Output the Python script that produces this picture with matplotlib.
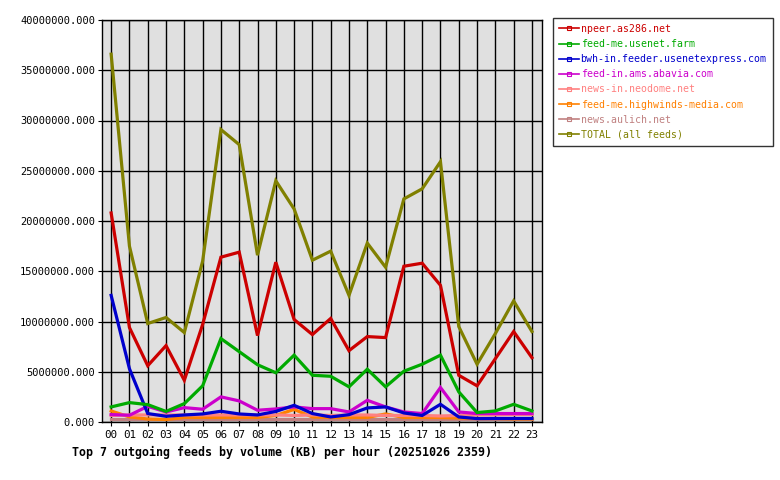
import matplotlib
matplotlib.use("Agg")
import matplotlib.pyplot as plt
from matplotlib.ticker import FuncFormatter
from matplotlib.lines import Line2D

hours = ["%02d" % h for h in range(24)]

# KB per hour (millions)
npeer = [20.8, 9.4, 5.6, 7.6, 4.15, 9.7, 16.4, 16.9, 8.6, 15.9, 10.2, 8.7,
         10.3, 7.1, 8.5, 8.4, 15.5, 15.8, 13.6, 4.65, 3.6, 6.3, 9.0, 6.4]
usenet_farm = [1.5, 1.93, 1.73, 1.05, 1.83, 3.6, 8.3, 7.0, 5.7, 4.9, 6.65, 4.65,
               4.55, 3.5, 5.25, 3.5, 5.05, 5.75, 6.65, 3.0, 0.94, 1.1, 1.76, 1.1]
usenetexpress = [12.6, 5.3, 0.84, 0.57, 0.7, 0.8, 1.07, 0.8, 0.7, 1.05, 1.66, 0.84,
                 0.5, 0.73, 1.4, 1.5, 0.9, 0.65, 1.76, 0.5, 0.34, 0.35, 0.35, 0.35]
abavia = [0.74, 0.67, 1.56, 1.0, 1.43, 1.27, 2.5, 2.1, 1.17, 1.3, 1.5, 1.33,
          1.33, 1.0, 2.16, 1.5, 1.0, 0.84, 3.43, 1.0, 0.84, 0.84, 0.84, 0.84]
neodome = [0.65, 0.7, 0.7, 0.7, 0.7, 0.7, 0.7, 0.7, 0.7, 0.7, 0.65, 0.7,
           0.65, 0.7, 0.7, 0.65, 0.65, 0.65, 0.6, 0.65, 0.7, 0.72, 0.74, 0.74]
highwinds = [1.1, 0.5, 0.3, 0.25, 0.45, 0.45, 0.45, 0.45, 0.45, 0.65, 1.25, 0.5,
             0.45, 0.45, 0.45, 0.8, 0.45, 0.45, 0.45, 0.4, 0.35, 0.35, 0.3, 0.3]
aulich = [0.25, 0.25, 0.25, 0.25, 0.25, 0.25, 0.25, 0.25, 0.25, 0.25, 0.25, 0.25,
          0.25, 0.25, 0.25, 0.25, 0.25, 0.25, 0.25, 0.25, 0.25, 0.25, 0.25, 0.25]
total = [36.6, 17.5, 9.8, 10.4, 8.9, 16.0, 29.1, 27.6, 16.6, 24.0, 21.2, 16.1,
         17.0, 12.6, 17.8, 15.4, 22.2, 23.2, 25.9, 9.5, 5.75, 8.8, 12.05, 9.0]

labels = ["npeer.as286.net", "feed-me.usenet.farm", "bwh-in.feeder.usenetexpress.com",
          "feed-in.ams.abavia.com", "news-in.neodome.net", "feed-me.highwinds-media.com",
          "news.aulich.net", "TOTAL (all feeds)"]
colors = ["#cc0000", "#00aa00", "#0000cc", "#cc00cc", "#ff8080", "#ff8000", "#c08080", "#808000"]
series = [npeer, usenet_farm, usenetexpress, abavia, neodome, highwinds, aulich, total]

plt.rcParams['font.family'] = 'DejaVu Sans Mono'

fig = plt.figure(figsize=(7.8, 4.8), dpi=100)
ax = fig.add_axes([102 / 780, 58 / 480, 440 / 780, 402 / 480])
ax.set_facecolor("#e0e0e0")

x = list(range(24))
# draw in reverse so the first feeds sit on top, TOTAL last
draw_order = [6, 5, 4, 3, 2, 1, 0, 7]
for i in draw_order:
    vals = [v * 1e6 for v in series[i]]
    ax.plot(x, vals, color=colors[i], lw=2.3, solid_joinstyle='miter',
            label=labels[i], zorder=3)

ax.set_xlim(-0.5, 23.55)
ax.set_ylim(0, 40e6)
ax.set_xticks(x)
ax.set_xticklabels(hours, fontsize=7.8)
ax.set_yticks([i * 5e6 for i in range(9)])
ax.yaxis.set_major_formatter(FuncFormatter(lambda v, p: "%.3f" % v))
ax.tick_params(axis='y', labelsize=7.5, length=3, pad=2)
ax.tick_params(axis='x', length=3, pad=3)
ax.grid(True, color='black', lw=1.0, zorder=1)
ax.set_axisbelow(True)
for s in ax.spines.values():
    s.set_linewidth(1.0)

fig.text(72 / 780, 1 - 452 / 480, "Top 7 outgoing feeds by volume (KB) per hour (20251026 2359)",
         fontsize=8.4, fontweight='bold', va='center', ha='left')

proxies = [Line2D([0], [0], color=c, lw=1.2, marker='s', markersize=2.5,
                  markerfacecolor='none', markeredgewidth=0.8) for c in colors]
leg = fig.legend(proxies, labels, loc='upper left',
                 bbox_to_anchor=(553 / 780, 1 - 18 / 480), frameon=True, fancybox=False,
                 edgecolor='black', fontsize=7.1, labelcolor=colors, handlelength=2.0,
                 handletextpad=0.2, borderpad=0.6, labelspacing=0.52, borderaxespad=0)
leg.get_frame().set_linewidth(1.0)

fig.savefig("out.png", dpi=100)
